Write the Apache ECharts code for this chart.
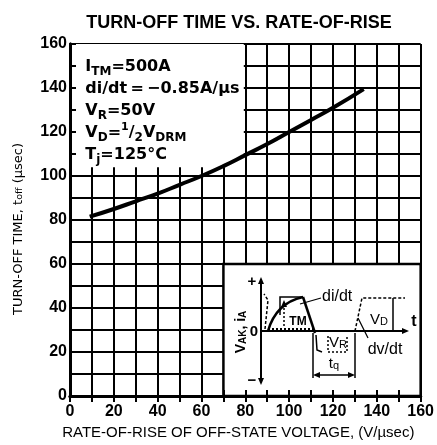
<!DOCTYPE html>
<html>
<head>
<meta charset="utf-8">
<script src="https://cdn.jsdelivr.net/npm/echarts@6/dist/echarts.min.js"></script>
<style>
    html, body { margin: 0; padding: 0; background: #fff; }
    #chart { width: 437px; height: 445px; }
</style>
</head>
<body>
<div id="chart"></div>
<script>
    // dv/dt (V/µs) against turn-off time (µs)
    const rateOfRise = [9, 20, 30, 40, 50, 60, 70, 80, 90, 100, 110, 120, 134]
    const turnOffTime = [81.5, 85, 88.5, 92, 96, 100, 104.5, 109.5, 114.5, 120, 125.5, 131, 139.5]

    // both axes run 0..160, grid every 10, labels every 20
    const axisMax = 160
    const gridStep = 10
    const labelStep = 20

    // test conditions, one per tick from 150 down
    const conditionLevels = [150, 140, 130, 120, 110]
    const conditions = [
        '{m|I}{s|TM}{m|=500A}',
        '{m|di/dt\u2009=\u2009−0.85A/µs}',
        '{m|V}{s|R}{m|=50V}',
        '{m|V}{s|D}{m|=}{p|1}{m|/}{s|2}{m|V}{s|DRM}',
        '{m|T}{s|j}{m|=125°C}'
    ]

    const ink = '#000'
    const chart = echarts.init(document.getElementById('chart'))

    const overlayAxis = (position, ticks) => ({
        type: 'value', position: position, min: 0, max: axisMax, interval: gridStep, z: 10,
        axisLine: {show: true, lineStyle: {color: ink, width: 3}},
        axisTick: {show: ticks, inside: true, length: 6, lineStyle: {color: ink, width: 2}},
        axisLabel: {show: false},
        splitLine: {show: false}
    })
    const tickLabel = v => (v % labelStep === 0 ? String(v) : '')

    const option = {
        animation: false,
        backgroundColor: '#fff',
        title: {
            text: 'TURN-OFF TIME VS. RATE-OF-RISE',
            left: 234, top: 9, textAlign: 'center',
            textStyle: {fontFamily: 'Liberation Sans', fontWeight: 'bold', fontSize: 18, color: ink}
        },
        grid: {left: 70, right: 12, top: 44, bottom: 49},
        xAxis: [
            {
                type: 'value', min: 0, max: axisMax, interval: gridStep,
                name: 'RATE-OF-RISE OF OFF-STATE VOLTAGE, (V/µsec)',
                nameLocation: 'middle', nameGap: 29,
                nameTextStyle: {fontFamily: 'Liberation Sans', fontSize: 15, color: ink, padding: [0, 14, 0, 0]},
                axisLine: {show: false},
                axisTick: {show: false},
                axisLabel: {
                    formatter: tickLabel, margin: 8, color: ink,
                    fontFamily: 'Liberation Sans', fontWeight: 'bold', fontSize: 16
                },
                splitLine: {show: true, lineStyle: {color: ink, width: 2}}
            },
            overlayAxis('bottom', true),
            overlayAxis('top', true)
        ],
        yAxis: [
            {
                type: 'value', min: 0, max: axisMax, interval: gridStep,
                name: '{n|TURN-OFF TIME, t}{s|off}{n| (µsec)}',
                nameLocation: 'middle', nameGap: 45,
                nameTextStyle: {
                    padding: [0, 18, 0, 0],
                    rich: {
                        n: {fontFamily: 'DejaVu Sans', fontSize: 13, color: ink},
                        s: {fontFamily: 'DejaVu Sans', fontSize: 9.5, color: ink, verticalAlign: 'bottom'}
                    }
                },
                axisLine: {show: false},
                axisTick: {show: false},
                axisLabel: {
                    formatter: tickLabel, margin: 3, color: ink,
                    fontFamily: 'Liberation Sans', fontWeight: 'bold', fontSize: 16
                },
                splitLine: {show: true, lineStyle: {color: ink, width: 2}}
            },
            overlayAxis('left', true),
            overlayAxis('right', false)
        ],
        series: [
            {
                // white panels: conditions box and the waveform inset
                type: 'line', z: 1, data: [[0, 0]], symbol: 'none', silent: true,
                lineStyle: {opacity: 0},
                markArea: {
                    silent: true,
                    itemStyle: {color: '#fff', opacity: 1},
                    data: [
                        [{xAxis: 0, yAxis: 104}, {xAxis: 79.3, yAxis: axisMax}],
                        [{xAxis: 70, yAxis: 0, itemStyle: {borderColor: ink, borderWidth: 2.5}}, {xAxis: axisMax, yAxis: 60}]
                    ]
                }
            },
            {
                type: 'line', z: 5, smooth: true, symbol: 'none',
                data: rateOfRise.map((x, i) => [x, turnOffTime[i]]),
                lineStyle: {color: ink, width: 4}
            }
        ]
    }
    chart.setOption(option)

    // ---- graphic helpers ----
    function seg(x1, y1, x2, y2, w, dash) {
        return {type: 'line', z: 100, shape: {x1, y1, x2, y2},
            style: {stroke: ink, lineWidth: w || 2, lineDash: dash || null}}
    }
    function poly(points, w, dash) {
        return {type: 'polyline', z: 100, shape: {points},
            style: {stroke: ink, fill: null, lineWidth: w || 1.5, lineDash: dash || null}}
    }
    function head(x, y, dir) {
        const p = {
            up: [[x, y], [x - 3, y + 7], [x + 3, y + 7]],
            down: [[x, y], [x - 3, y - 7], [x + 3, y - 7]],
            right: [[x, y], [x - 7, y - 3], [x - 7, y + 3]],
            left: [[x, y], [x + 7, y - 3], [x + 7, y + 3]]
        }[dir]
        return {type: 'polygon', z: 100, shape: {points: p}, style: {fill: ink}}
    }
    const insetRich = {
        m: {fontFamily: 'Liberation Sans', fontSize: 15, color: ink},
        s: {fontFamily: 'Liberation Sans', fontSize: 11, color: ink, verticalAlign: 'bottom', lineHeight: 13}
    }
    function label(x, y, text, extra) {
        return Object.assign({type: 'text', z: 100, x, y,
            style: Object.assign({text, fill: ink, align: 'center', verticalAlign: 'middle',
                font: '15px "Liberation Sans"', rich: insetRich}, (extra && extra.style) || {})},
            extra && extra.el ? extra.el : {})
    }

    const graphics = []

    // conditions box text, one line per tick
    const condRich = {
        m: {fontFamily: 'DejaVu Sans', fontWeight: 'bold', fontSize: 16, color: ink, lineHeight: 22},
        s: {fontFamily: 'DejaVu Sans', fontWeight: 'bold', fontSize: 12, color: ink, verticalAlign: 'bottom', lineHeight: 15},
        p: {fontFamily: 'DejaVu Sans', fontWeight: 'bold', fontSize: 11, color: ink, verticalAlign: 'top', lineHeight: 14}
    }
    conditions.forEach((txt, i) => {
        const pt = chart.convertToPixel({xAxisIndex: 0, yAxisIndex: 0}, [7, conditionLevels[i]])
        graphics.push({type: 'text', z: 100, x: pt[0], y: pt[1] + 1,
            style: {text: txt, rich: condRich, align: 'left', verticalAlign: 'middle'}})
    })

    // waveform inset: axes
    graphics.push(
        seg(261, 282, 261, 380, 2), head(261, 277, 'up'), head(261, 385, 'down'),
        seg(261, 331, 404, 331, 2), head(409, 331, 'right'),
        label(252, 282, '+', {style: {font: 'bold 15px "Liberation Sans"'}}),
        label(252, 381, '−', {style: {font: 'bold 15px "Liberation Sans"'}}),
        label(254, 332, '0', {style: {font: 'bold 15px "Liberation Sans"'}}),
        label(414, 322, 't', {style: {font: 'bold 16px "Liberation Sans"'}}),
        label(241, 332, '{m|V}{s|AK}{m|, i}{s|A}', {
            style: {rich: {
                m: {fontFamily: 'Liberation Sans', fontWeight: 'bold', fontSize: 14, color: ink},
                s: {fontFamily: 'Liberation Sans', fontWeight: 'bold', fontSize: 10, color: ink, verticalAlign: 'bottom', lineHeight: 12}
            }},
            el: {rotation: Math.PI / 2}
        })
    )

    // current pulse and reverse recovery
    graphics.push(
        {type: 'bezierCurve', z: 100, shape: {x1: 268, y1: 331, cpx1: 276, cpy1: 303, x2: 303, y2: 297},
            style: {stroke: ink, fill: null, lineWidth: 2.5}},
        seg(303, 297, 315, 333, 2.5),
        poly([[316, 335], [317, 350], [322, 352]], 1.5),
        poly([[280, 315], [280, 297], [303, 297]], 1.5),
        poly([[265, 329], [268, 300], [264, 294]], 1.5, [3, 2]),
        seg(268, 329, 314, 329, 2, [2, 2]),
        seg(284, 304, 284, 328, 1.5, [2, 2]), head(284, 300, 'up'),
        label(298, 322, 'TM', {style: {font: 'bold 12px "Liberation Sans"'}}),
        seg(300, 304, 321, 298, 1.2),
        label(322, 297, 'di/dt', {style: {align: 'left', font: '16px "Liberation Sans"'}}),
        poly([[328, 336], [328, 352], [347, 352], [347, 336]], 1.5, [2, 2]),
        label(338, 343, '{m|V}{s|R}')
    )

    // t_q span, dv/dt ramp and V_D
    graphics.push(
        seg(313, 333, 313, 378, 1.5), seg(355, 333, 355, 378, 1.5),
        seg(318, 375, 350, 375, 1.5), head(313, 375, 'left'), head(355, 375, 'right'),
        label(334, 364, '{m|t}{s|q}'),
        poly([[355, 331], [362, 298], [405, 298]], 1.5, [3, 2]),
        seg(393, 298, 393, 331, 1.5),
        label(379, 320, '{m|V}{s|D}'),
        seg(358, 318, 368, 338, 1.2),
        label(385, 350, 'dv/dt', {style: {font: '16px "Liberation Sans"'}})
    )

    chart.setOption({graphic: graphics})
</script>
</body>
</html>
